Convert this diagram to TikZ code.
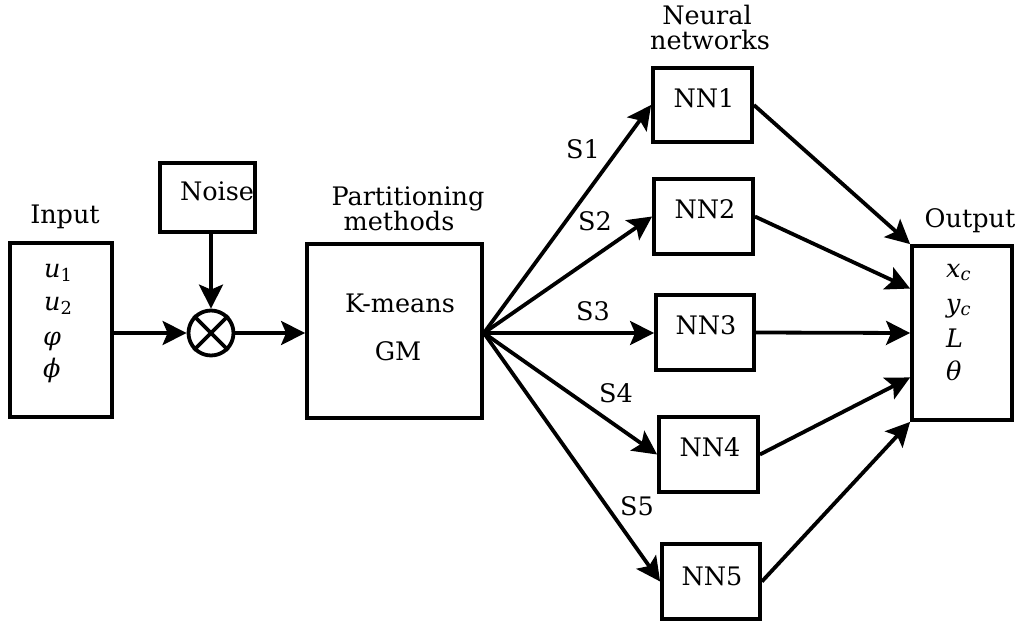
\documentclass[tikz,border=0pt]{standalone}
\usepackage{fontspec}
\setmainfont{DejaVu Serif}
\usetikzlibrary{arrows.meta,calc}
\tikzset{
  box/.style={draw, line width=3.8pt, inner sep=0pt, rectangle},
  txt/.style={inner sep=0pt, anchor=base, font=\fontsize{25.5}{26}\selectfont},
  mtxt/.style={inner sep=0pt, anchor=base west, font=\fontsize{25.5}{26}\selectfont\itshape},
  arr/.style={line width=3.8pt, -{Stealth[length=24pt,width=24pt,inset=5pt]}},
}
\newcommand{\sbs}[1]{\textsubscript{\upshape #1}}
\begin{document}
\begin{tikzpicture}[x=1pt,y=-1pt]
\useasboundingbox (0,0) rectangle (1026,626);
% boxes
\node[box, minimum width=102pt, minimum height=174pt] (inp) at (61,330) {};
\node[box, minimum width=95pt, minimum height=69pt] (noise) at (207.5,197.5) {};
\node[draw, circle, line width=3.8pt, minimum size=45pt, inner sep=0pt] (mix) at (211,333) {};
\draw[line width=3.8pt] (mix.north west) -- (mix.south east);
\draw[line width=3.8pt] (mix.north east) -- (mix.south west);
\node[box, minimum width=175pt, minimum height=174pt] (part) at (394.5,331) {};
\node[box, minimum width=99pt, minimum height=74pt] (nn1) at (702.5,105) {};
\node[box, minimum width=99pt, minimum height=75pt] (nn2) at (703.5,216.5) {};
\node[box, minimum width=98pt, minimum height=75pt] (nn3) at (705,332.5) {};
\node[box, minimum width=99pt, minimum height=75pt] (nn4) at (708.5,454.5) {};
\node[box, minimum width=98pt, minimum height=75pt] (nn5) at (711,581.5) {};
\node[box, minimum width=100pt, minimum height=174pt] (out) at (962,333) {};
% texts
\node[txt] (tinp) at (65,223) {Input};
\node[txt] (tnoise) at (217,200) {Noise};
\node[txt] (tpart1) at (408,205) {Partitioning};
\node[txt] (tpart2) at (399,230) {methods};
\node[txt] (tkm) at (400,312) {K-means};
\node[txt] (tgm) at (398,360) {GM};
\node[txt] (tnn1) at (707,25) {Neural};
\node[txt] (tnn2) at (710,50) {networks};
\node[txt] (tout) at (970,227) {Output};
\node[txt] (t1) at (704,107) {NN1};
\node[txt] (t2) at (705,218) {NN2};
\node[txt] (t3) at (706,334) {NN3};
\node[txt] (t4) at (710,456) {NN4};
\node[txt] (t5) at (712,585) {NN5};
\node[txt] (s1) at (583,158) {S1};
\node[txt] (s2) at (595,230) {S2};
\node[txt] (s3) at (593,320) {S3};
\node[txt] (s4) at (616,402) {S4};
\node[txt] (s5) at (637,515) {S5};
\node[mtxt] (u1) at (44,277) {u\sbs{1}};
\node[mtxt] (u2) at (44,310) {u\sbs{2}};
\node[mtxt] (vp) at (43,345) {φ};
\node[mtxt] (ph) at (43,377) {ϕ};
\node[mtxt] (xc) at (946,277) {x\textsubscript{c}};
\node[mtxt] (yc) at (946,312) {y\textsubscript{c}};
\node[mtxt] (ll) at (946,347) {L};
\node[mtxt] (th) at (946,380) {θ};
% connectors
\draw[arr] (inp.east |- mix) -- (mix.west);
\draw[arr] (noise.south -| mix) -- (mix.north);
\draw[arr] (mix.east) -- (part.west |- mix);
\coordinate (fan) at (part.east |- mix);
\draw[arr] (fan) -- (nn1.west);
\draw[arr] (fan) -- (nn2.west);
\draw[arr] (fan) -- (nn3.west |- fan);
\draw[arr] (fan) -- (nn4.west);
\draw[arr] (fan) -- (nn5.west);
\draw[arr] (nn1.east) -- (out.north west);
\draw[arr] (nn2.east) -- ($(out.north west)!0.25!(out.south west)$);
\draw[arr] (nn3.east) -- (out.west);
\draw[arr] (nn4.east) -- ($(out.north west)!0.75!(out.south west)$);
\draw[arr] (nn5.east) -- (out.south west);
\end{tikzpicture}
\end{document}
